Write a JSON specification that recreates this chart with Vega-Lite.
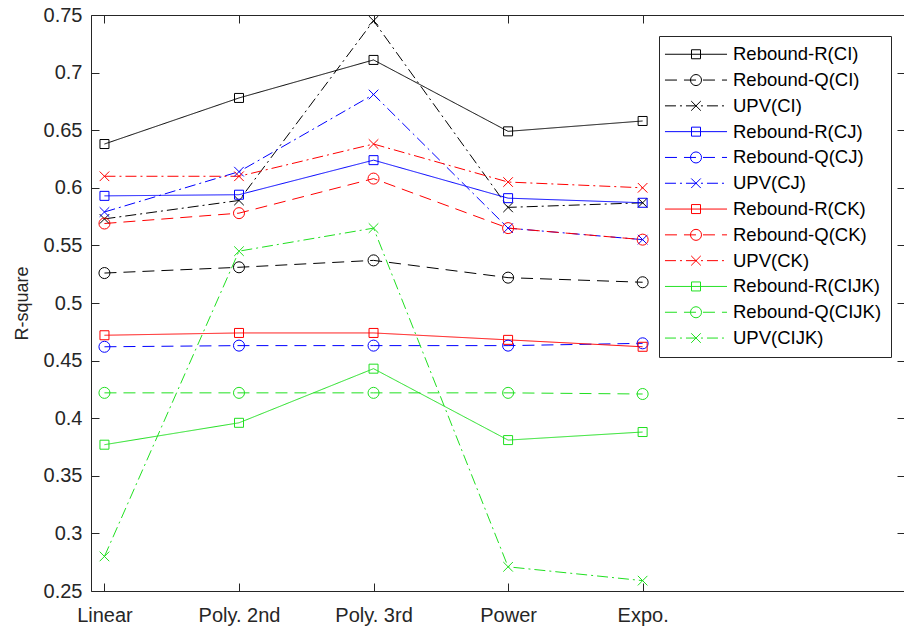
{
  "$schema": "https://vega.github.io/schema/vega-lite/v6.json",
  "width": 814,
  "height": 576,
  "autosize": {"type": "none"},
  "padding": {"left": 91, "top": 15, "right": 0, "bottom": 39},
  "background": "white",
  "config": {
    "view": {"stroke": "#262626", "strokeWidth": 1},
    "font": "Liberation Sans",
    "axis": {
      "grid": false, "domain": false, "tickColor": "#262626", "tickWidth": 1, "tickSize": -8,
      "labelColor": "#262626", "labelFont": "Liberation Sans", "labelFontSize": 20,
      "titleFont": "Liberation Sans", "titleColor": "#262626", "titleFontWeight": "normal"
    }
  },
  "data": {"values": [
    {"series": "Rebound-R(CI)", "idx": 1, "r2": 0.638}, {"series": "Rebound-R(CI)", "idx": 2, "r2": 0.678}, {"series": "Rebound-R(CI)", "idx": 3, "r2": 0.711}, {"series": "Rebound-R(CI)", "idx": 4, "r2": 0.649}, {"series": "Rebound-R(CI)", "idx": 5, "r2": 0.658},
    {"series": "Rebound-Q(CI)", "idx": 1, "r2": 0.526}, {"series": "Rebound-Q(CI)", "idx": 2, "r2": 0.531}, {"series": "Rebound-Q(CI)", "idx": 3, "r2": 0.537}, {"series": "Rebound-Q(CI)", "idx": 4, "r2": 0.522}, {"series": "Rebound-Q(CI)", "idx": 5, "r2": 0.518},
    {"series": "UPV(CI)", "idx": 1, "r2": 0.573}, {"series": "UPV(CI)", "idx": 2, "r2": 0.589}, {"series": "UPV(CI)", "idx": 3, "r2": 0.745}, {"series": "UPV(CI)", "idx": 4, "r2": 0.583}, {"series": "UPV(CI)", "idx": 5, "r2": 0.587},
    {"series": "Rebound-R(CJ)", "idx": 1, "r2": 0.593}, {"series": "Rebound-R(CJ)", "idx": 2, "r2": 0.594}, {"series": "Rebound-R(CJ)", "idx": 3, "r2": 0.624}, {"series": "Rebound-R(CJ)", "idx": 4, "r2": 0.591}, {"series": "Rebound-R(CJ)", "idx": 5, "r2": 0.587},
    {"series": "Rebound-Q(CJ)", "idx": 1, "r2": 0.462}, {"series": "Rebound-Q(CJ)", "idx": 2, "r2": 0.463}, {"series": "Rebound-Q(CJ)", "idx": 3, "r2": 0.463}, {"series": "Rebound-Q(CJ)", "idx": 4, "r2": 0.463}, {"series": "Rebound-Q(CJ)", "idx": 5, "r2": 0.465},
    {"series": "UPV(CJ)", "idx": 1, "r2": 0.579}, {"series": "UPV(CJ)", "idx": 2, "r2": 0.614}, {"series": "UPV(CJ)", "idx": 3, "r2": 0.681}, {"series": "UPV(CJ)", "idx": 4, "r2": 0.565}, {"series": "UPV(CJ)", "idx": 5, "r2": 0.555},
    {"series": "Rebound-R(CK)", "idx": 1, "r2": 0.472}, {"series": "Rebound-R(CK)", "idx": 2, "r2": 0.474}, {"series": "Rebound-R(CK)", "idx": 3, "r2": 0.474}, {"series": "Rebound-R(CK)", "idx": 4, "r2": 0.468}, {"series": "Rebound-R(CK)", "idx": 5, "r2": 0.462},
    {"series": "Rebound-Q(CK)", "idx": 1, "r2": 0.569}, {"series": "Rebound-Q(CK)", "idx": 2, "r2": 0.578}, {"series": "Rebound-Q(CK)", "idx": 3, "r2": 0.608}, {"series": "Rebound-Q(CK)", "idx": 4, "r2": 0.565}, {"series": "Rebound-Q(CK)", "idx": 5, "r2": 0.555},
    {"series": "UPV(CK)", "idx": 1, "r2": 0.610}, {"series": "UPV(CK)", "idx": 2, "r2": 0.610}, {"series": "UPV(CK)", "idx": 3, "r2": 0.638}, {"series": "UPV(CK)", "idx": 4, "r2": 0.605}, {"series": "UPV(CK)", "idx": 5, "r2": 0.600},
    {"series": "Rebound-R(CIJK)", "idx": 1, "r2": 0.377}, {"series": "Rebound-R(CIJK)", "idx": 2, "r2": 0.396}, {"series": "Rebound-R(CIJK)", "idx": 3, "r2": 0.443}, {"series": "Rebound-R(CIJK)", "idx": 4, "r2": 0.381}, {"series": "Rebound-R(CIJK)", "idx": 5, "r2": 0.388},
    {"series": "Rebound-Q(CIJK)", "idx": 1, "r2": 0.422}, {"series": "Rebound-Q(CIJK)", "idx": 2, "r2": 0.422}, {"series": "Rebound-Q(CIJK)", "idx": 3, "r2": 0.422}, {"series": "Rebound-Q(CIJK)", "idx": 4, "r2": 0.422}, {"series": "Rebound-Q(CIJK)", "idx": 5, "r2": 0.421},
    {"series": "UPV(CIJK)", "idx": 1, "r2": 0.280}, {"series": "UPV(CIJK)", "idx": 2, "r2": 0.545}, {"series": "UPV(CIJK)", "idx": 3, "r2": 0.565}, {"series": "UPV(CIJK)", "idx": 4, "r2": 0.271}, {"series": "UPV(CIJK)", "idx": 5, "r2": 0.259}
  ]},
  "encoding": {
    "color": {
      "field": "series", "type": "nominal",
      "scale": {
        "domain": ["Rebound-R(CI)", "Rebound-Q(CI)", "UPV(CI)", "Rebound-R(CJ)", "Rebound-Q(CJ)", "UPV(CJ)", "Rebound-R(CK)", "Rebound-Q(CK)", "UPV(CK)", "Rebound-R(CIJK)", "Rebound-Q(CIJK)", "UPV(CIJK)"],
        "range": ["#000000", "#000000", "#000000", "#0000ff", "#0000ff", "#0000ff", "#ff0000", "#ff0000", "#ff0000", "#20e020", "#20e020", "#20e020"]
      },
      "legend": {
        "orient": "none", "legendX": 568, "legendY": 21, "title": null, "direction": "vertical",
        "padding": 9, "strokeColor": "#262626", "fillColor": "white",
        "symbolType": "M-5.17,0H5.17", "symbolSize": 144, "symbolStrokeWidth": 1, "symbolOffset": 18.75,
        "labelOffset": 27.75, "labelFontSize": 18.5, "labelFont": "Liberation Sans", "labelColor": "#000000",
        "rowPadding": 6.8, "labelLimit": 300
      }
    }
  },
  "layer": [
    {
      "mark": {"type": "line", "strokeWidth": 1},
      "encoding": {
        "x": {
          "field": "idx", "type": "quantitative",
          "scale": {"domain": [0.9, 6.95], "nice": false, "zero": false},
          "axis": {"orient": "bottom", "values": [1, 2, 3, 4, 5], "labelExpr": "['Linear','Poly. 2nd','Poly. 3rd','Power','Expo.'][datum.value-1]", "labelPadding": 22, "title": null, "labelFlush": false}
        },
        "y": {
          "field": "r2", "type": "quantitative",
          "scale": {"domain": [0.25, 0.75], "nice": false, "zero": false},
          "axis": {"orient": "left", "values": [0.25, 0.3, 0.35, 0.4, 0.45, 0.5, 0.55, 0.6, 0.65, 0.7, 0.75], "format": ".2~f", "labelPadding": 17, "title": "R-square", "titleFontSize": 18, "titleX": -69, "titleY": 288, "titleAngle": -90, "titleBaseline": "middle", "titleAlign": "center", "labelFlush": false}
        },
        "strokeDash": {
          "field": "series", "type": "nominal",
          "scale": {
            "domain": ["Rebound-R(CI)", "Rebound-Q(CI)", "UPV(CI)", "Rebound-R(CJ)", "Rebound-Q(CJ)", "UPV(CJ)", "Rebound-R(CK)", "Rebound-Q(CK)", "UPV(CK)", "Rebound-R(CIJK)", "Rebound-Q(CIJK)", "UPV(CIJK)"],
            "range": [[1, 0], [12, 7], [11, 4, 2, 4], [1, 0], [12, 7], [11, 4, 2, 4], [1, 0], [12, 7], [11, 4, 2, 4], [1, 0], [12, 7], [11, 4, 2, 4]]
          },
          "legend": {
            "orient": "none", "legendX": 568, "legendY": 21, "title": null, "direction": "vertical",
            "padding": 9, "strokeColor": "#262626", "fillColor": "white",
            "symbolType": "M-5.17,0H5.17", "symbolSize": 144, "symbolStrokeWidth": 1, "symbolOffset": 18.75,
            "labelOffset": 27.75, "labelFontSize": 18.5, "labelFont": "Liberation Sans", "labelColor": "#000000",
            "rowPadding": 6.8, "labelLimit": 300
          }
        }
      }
    },
    {
      "mark": {"type": "point", "filled": false, "size": 144, "strokeWidth": 1, "opacity": 1},
      "encoding": {
        "x": {
          "field": "idx", "type": "quantitative",
          "scale": {"domain": [0.9, 6.95], "nice": false, "zero": false},
          "axis": {"orient": "top", "values": [1, 2, 3, 4, 5], "labels": false, "title": null}
        },
        "y": {
          "field": "r2", "type": "quantitative",
          "scale": {"domain": [0.25, 0.75], "nice": false, "zero": false},
          "axis": {"orient": "right", "values": [0.25, 0.3, 0.35, 0.4, 0.45, 0.5, 0.55, 0.6, 0.65, 0.7, 0.75], "labels": false, "title": null}
        },
        "shape": {
          "field": "series", "type": "nominal",
          "sort": ["Rebound-R(CI)", "Rebound-Q(CI)", "UPV(CI)", "Rebound-R(CJ)", "Rebound-Q(CJ)", "UPV(CJ)", "Rebound-R(CK)", "Rebound-Q(CK)", "UPV(CK)", "Rebound-R(CIJK)", "Rebound-Q(CIJK)", "UPV(CIJK)"],
          "scale": {
            "range": [
              "M-0.75,-0.75H0.75V0.75H-0.75Z", "M0.92,0A0.92,0.92,0,1,1,-0.92,0A0.92,0.92,0,1,1,0.92,0Z", "M-0.8,-0.8L0.8,0.8M-0.8,0.8L0.8,-0.8",
              "M-0.75,-0.75H0.75V0.75H-0.75Z", "M0.92,0A0.92,0.92,0,1,1,-0.92,0A0.92,0.92,0,1,1,0.92,0Z", "M-0.8,-0.8L0.8,0.8M-0.8,0.8L0.8,-0.8",
              "M-0.75,-0.75H0.75V0.75H-0.75Z", "M0.92,0A0.92,0.92,0,1,1,-0.92,0A0.92,0.92,0,1,1,0.92,0Z", "M-0.8,-0.8L0.8,0.8M-0.8,0.8L0.8,-0.8",
              "M-0.75,-0.75H0.75V0.75H-0.75Z", "M0.92,0A0.92,0.92,0,1,1,-0.92,0A0.92,0.92,0,1,1,0.92,0Z", "M-0.8,-0.8L0.8,0.8M-0.8,0.8L0.8,-0.8"
            ]
          },
          "legend": {
            "orient": "none", "legendX": 568, "legendY": 21, "title": null, "direction": "vertical",
            "padding": 9, "symbolSize": 144, "symbolStrokeWidth": 1, "symbolOffset": 18.75,
            "symbolStrokeColor": {"expr": "scale('color', datum.value)"},
            "symbolFillColor": "transparent",
            "labelOffset": 27.75, "labelFontSize": 18.5, "labelFont": "Liberation Sans", "labelColor": "transparent",
            "rowPadding": 6.8, "labelLimit": 300
          }
        }
      }
    }
  ],
  "resolve": {"axis": {"x": "independent", "y": "independent"}}
}
